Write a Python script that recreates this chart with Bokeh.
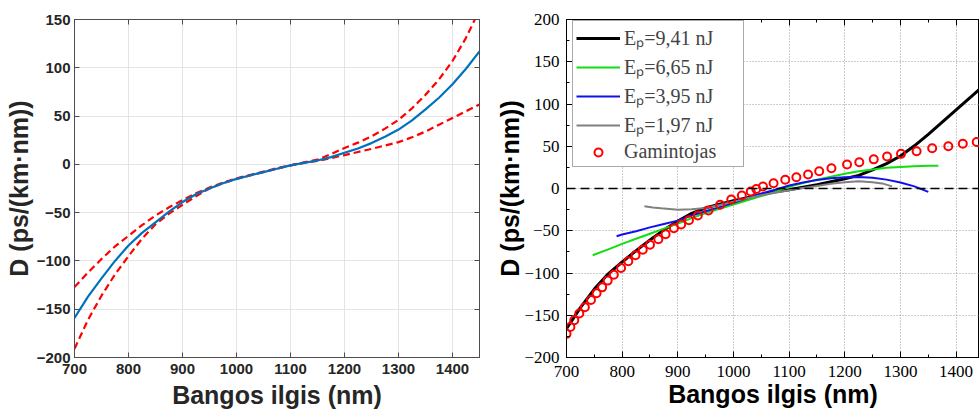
from bokeh.plotting import figure
from bokeh.layouts import row
from bokeh.models import LinearAxis, SingleIntervalTicker, Span, Legend, LegendItem
from bokeh.embed import file_html
from bokeh.resources import INLINE

# ---------------- left panel data ----------------
wl_left = [700, 725, 750, 775, 800, 825, 850, 875, 900, 925, 950, 975, 1000, 1025, 1050,
           1075, 1100, 1125, 1150, 1175, 1200, 1225, 1250, 1275, 1300, 1325, 1350, 1375,
           1400, 1425, 1450]
d_mid = [-159, -137, -118, -100, -84, -71, -60, -49, -39, -31, -25, -19.5, -15, -11.5, -8,
         -4.5, -1, 1.5, 4, 7.5, 12, 16.5, 22, 28.5, 36, 45.5, 57, 69, 83, 99, 117]
d_upper = [-127, -112, -98, -85, -74, -63, -53, -44.5, -37, -30, -24, -19, -14.5, -11, -7.5,
           -4, -1, 2, 5, 10.5, 17, 22.5, 29, 37, 46, 58, 72, 88, 107, 131, 160]
d_lower = [-191, -161, -136, -114, -95, -77, -62, -51, -42, -33, -25, -19.5, -15, -11.5, -8,
           -4.5, -1, 1.5, 3.5, 6.5, 9.6, 12.8, 16, 19.5, 23, 28, 34, 41, 48, 55, 62]

# ---------------- right panel data ----------------
wl_941 = [700, 725, 750, 775, 800, 825, 850, 875, 900, 925, 950, 975, 1000, 1025, 1050, 1075,
          1100, 1125, 1150, 1175, 1200, 1225, 1250, 1275, 1300, 1325, 1350, 1375, 1400, 1425, 1445]
d_941 = [-166, -141, -119, -101, -87, -73.5, -61, -49, -38.5, -29.5, -23, -18.5, -14.5, -11, -7,
         -4, -1.5, 1.5, 4.5, 8, 11.5, 15.5, 22, 29.5, 38.5, 50.5, 64, 78.5, 93, 107.5, 119]

wl_665 = [747, 775, 800, 825, 850, 875, 900, 925, 950, 975, 1000, 1025, 1050, 1075, 1100, 1125,
          1150, 1175, 1200, 1225, 1250, 1275, 1300, 1325, 1350, 1368]
d_665 = [-79, -72, -65.5, -59.5, -53.5, -47.5, -41.5, -35, -29, -24, -19, -14, -9, -4, 2, 6.5,
         10.5, 14, 17.5, 20.5, 22.5, 24.5, 25.5, 26.3, 26.8, 27]

wl_395 = [790, 800, 825, 850, 875, 900, 925, 950, 975, 1000, 1025, 1050, 1075, 1100, 1125, 1150,
          1175, 1200, 1225, 1250, 1275, 1300, 1325, 1350]
d_395 = [-56.6, -54.5, -50.5, -46, -42, -38, -32, -27, -22, -17, -11.5, -6, -1.5, 3.5, 7, 10, 12,
         13.2, 13.5, 12.8, 10.5, 7, 2.5, -4]

wl_197 = [840, 855, 870, 900, 925, 950, 975, 1000, 1025, 1050, 1075, 1100, 1125, 1150, 1175,
          1200, 1225, 1250, 1270, 1285]
d_197 = [-21, -22.5, -23.5, -25.2, -24.5, -23, -19.5, -15.5, -11.5, -8, -5, -2, 0.5, 3, 5.5, 7.5,
         8.6, 7.5, 5.5, 2.5]

wl_gam = [700, 707, 714, 723, 733, 744, 754, 764, 774, 785, 798, 811, 824, 837, 850, 865, 878,
          893, 906, 920, 936, 955, 976, 996, 1015, 1031, 1041, 1053, 1072, 1093, 1113, 1134, 1154,
          1176, 1204, 1226, 1252, 1276, 1301, 1329, 1357, 1386, 1412, 1437]
d_gam = [-172, -164, -156, -148, -140.5, -132, -124, -117, -109, -102, -94, -86, -79, -72.5,
         -66.5, -60, -54, -47, -42.6, -37.5, -32, -26, -19.3, -13, -8.3, -3.5, -0.5, 2.3, 6.3, 10.3,
         13.4, 16.6, 20.5, 24, 28.4, 31, 34.5, 37.8, 41, 44, 47.7, 50, 53, 55]

legend_labels = ["E\u209a=9,41 nJ", "E\u209a=6,65 nJ", "E\u209a=3,95 nJ", "E\u209a=1,97 nJ", "Gamintojas"]
x_label = "Bangos ilgis (nm)"
y_label = "D (ps/(km\u00b7nm))"

SANS = "Liberation Sans"
SERIF = "Liberation Serif"

# ================= left figure (MATLAB style) =================
p1 = figure(width=485, height=412, x_range=(700, 1450), y_range=(-200, 150),
            output_backend="svg", toolbar_location=None,
            min_border_left=74, min_border_right=6, min_border_top=18, min_border_bottom=55)
p1.outline_line_color = "#4d4d4d"
p1.background_fill_color = "white"
p1.border_fill_color = "white"

xt1 = SingleIntervalTicker(interval=100, num_minor_ticks=0)
yt1 = SingleIntervalTicker(interval=50, num_minor_ticks=0)
p1.xaxis.ticker = xt1
p1.yaxis.ticker = yt1
p1.xgrid.ticker = xt1
p1.ygrid.ticker = yt1
p1.grid.grid_line_color = "#e4e4e4"
p1.grid.grid_line_width = 1

for ax in (p1.xaxis[0], p1.yaxis[0]):
    ax.axis_line_color = "#4d4d4d"
    ax.major_tick_line_color = "#4d4d4d"
    ax.major_tick_in = 5
    ax.major_tick_out = 0
    ax.minor_tick_line_color = None
    ax.major_label_text_font = SANS
    ax.major_label_text_font_style = "bold"
    ax.major_label_text_font_size = "15px"
    ax.major_label_text_color = "#262626"
    ax.axis_label_text_font = SANS
    ax.axis_label_text_font_style = "bold"
    ax.axis_label_text_font_size = "25px"
    ax.axis_label_text_color = "#262626"
p1.xaxis.axis_label = x_label
p1.yaxis.axis_label = y_label
p1.xaxis.major_label_standoff = 6
p1.xaxis.axis_label_standoff = 4
p1.yaxis.major_label_standoff = 4
p1.yaxis.axis_label_standoff = 1

for side, tk in (("above", xt1), ("right", yt1)):
    extra = LinearAxis(ticker=tk, major_label_text_font_size="0px", major_tick_in=5,
                       major_tick_out=0, minor_tick_line_color=None,
                       axis_line_color="#4d4d4d", major_tick_line_color="#4d4d4d",
                       major_label_standoff=0)
    p1.add_layout(extra, side)

p1.line(wl_left, d_upper, line_color="#ff0000", line_width=2.2, line_dash="7 4")
p1.line(wl_left, d_lower, line_color="#ff0000", line_width=2.2, line_dash="7 4")
p1.line(wl_left, d_mid, line_color="#0072bd", line_width=2.2)

# ================= right figure (Origin style) =================
p2 = figure(width=494, height=412, x_range=(700, 1442), y_range=(-200, 200),
            output_backend="svg", toolbar_location=None,
            min_border_left=81, min_border_right=0, min_border_top=19, min_border_bottom=55)
p2.outline_line_color = "black"
p2.background_fill_color = "white"
p2.border_fill_color = "white"

xt2 = SingleIntervalTicker(interval=100, num_minor_ticks=2)
yt2 = SingleIntervalTicker(interval=50, num_minor_ticks=2)
p2.xaxis.ticker = xt2
p2.yaxis.ticker = yt2
p2.xgrid.ticker = SingleIntervalTicker(interval=100, num_minor_ticks=0)
p2.ygrid.ticker = SingleIntervalTicker(interval=50, num_minor_ticks=0)
p2.grid.grid_line_color = "#9a9a9a"
p2.grid.grid_line_dash = "1 2"
p2.grid.grid_line_width = 1

for ax in (p2.xaxis[0], p2.yaxis[0]):
    ax.axis_line_color = "black"
    ax.major_tick_line_color = "black"
    ax.minor_tick_line_color = "black"
    ax.major_tick_in = 6
    ax.major_tick_out = 0
    ax.minor_tick_in = 3
    ax.minor_tick_out = 0
    ax.major_label_text_font = SERIF
    ax.major_label_text_font_size = "17px"
    ax.major_label_text_color = "black"
    ax.axis_label_text_font = SANS
    ax.axis_label_text_font_style = "bold"
    ax.axis_label_text_font_size = "25px"
    ax.axis_label_text_color = "black"
p2.xaxis.axis_label = x_label
p2.yaxis.axis_label = y_label
p2.xaxis.major_label_standoff = 8
p2.xaxis.axis_label_standoff = 0
p2.yaxis.major_label_standoff = 7
p2.yaxis.axis_label_standoff = -3

top2 = LinearAxis(ticker=xt2, major_label_text_font_size="0px", major_tick_in=6, major_tick_out=0,
                  minor_tick_in=3, minor_tick_out=0, axis_line_color="black",
                  major_tick_line_color="black", minor_tick_line_color="black",
                  major_label_standoff=0)
p2.add_layout(top2, "above")

p2.add_layout(Span(location=0, dimension="width", line_color="black", line_width=1.5,
                   line_dash="9 5"))

r941 = p2.line(wl_941, d_941, line_color="black", line_width=3)
r665 = p2.line(wl_665, d_665, line_color="#11dd11", line_width=2)
r395 = p2.line(wl_395, d_395, line_color="#1010ee", line_width=2)
r197 = p2.line(wl_197, d_197, line_color="#808080", line_width=2)
rgam = p2.scatter(wl_gam, d_gam, marker="circle", size=8, fill_color=None,
                  line_color="#ff0000", line_width=2)

legend = Legend(items=[LegendItem(label=legend_labels[0], renderers=[r941]),
                       LegendItem(label=legend_labels[1], renderers=[r665]),
                       LegendItem(label=legend_labels[2], renderers=[r395]),
                       LegendItem(label=legend_labels[3], renderers=[r197]),
                       LegendItem(label=legend_labels[4], renderers=[rgam])],
                location=(6, 190), label_text_font=SERIF, label_text_font_size="20px",
                glyph_width=44, glyph_height=20, label_height=20, label_width=116,
                spacing=2, padding=3, margin=0, label_standoff=4,
                border_line_color="#555555", border_line_width=1,
                background_fill_color="white", background_fill_alpha=1.0)
p2.add_layout(legend, "center")

layout = row(p1, p2)
open("out.html", "w").write(file_html(layout, INLINE))
